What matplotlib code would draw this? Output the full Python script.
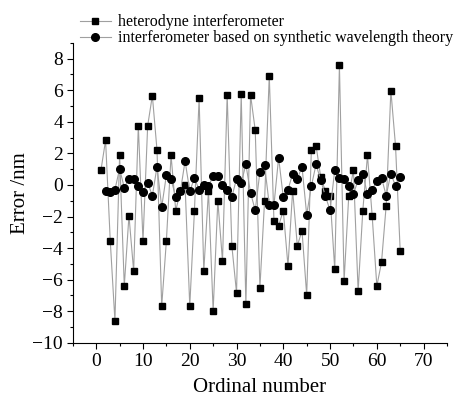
import numpy as np
import matplotlib
matplotlib.use("Agg")
import matplotlib.pyplot as plt
from matplotlib.ticker import MultipleLocator

# heterodyne interferometer (squares), ordinal 1..65
het_x = list(range(1, 66))
het_err = [0.92, 2.83, -3.54, -8.6, 1.88, -6.4, -1.94, -5.45, 3.75, -3.54,
           3.75, 5.66, 2.2, -7.68, -3.54, 1.88, -1.62, -0.4, 0.0, -7.68,
           -1.62, 5.49, -5.45, -0.35, -7.97, -0.99, -4.81, 5.7, -3.85, -6.83,
           5.74, -7.57, 5.7, 3.47, -6.5, -0.99, 6.93, -2.26, -2.58, -1.62,
           -5.13, -0.35, -3.85, -2.9, -6.97, 2.2, 2.5, 0.5, -0.39, -0.71,
           -5.34, 7.57, -6.06, -0.67, 0.94, -6.72, -1.62, 1.88, -1.94, -6.4,
           -4.9, -1.3, 5.98, 2.47, -4.2]

# synthetic wavelength interferometer (circles), ordinal 2..65
syn_x = list(range(2, 66))
syn_err = [-0.39, -0.46, -0.29, 1.03, -0.18, 0.41, 0.41, -0.05, -0.46,
           0.14, -0.67, 1.15, -1.4, 0.62, 0.35, -0.73, -0.39, 1.52, -0.39,
           0.43, -0.29, 0.03, -0.07, 0.56, 0.56, 0.03, -0.29, -0.77, 0.41,
           0.12, 1.3, -0.5, -1.6, 0.83, 1.24, -1.24, -1.28, 1.73, -0.78,
           -0.31, 0.72, 0.4, 1.15, -1.88, -0.07, 1.3, 0.31, -0.71, -1.6,
           0.93, 0.46, 0.35, -0.07, -0.57, 0.31, 0.72, -0.6, -0.29, 0.25,
           0.46, -0.67, 0.72, -0.07, 0.52]

plt.rcParams['font.family'] = ['Liberation Serif', 'DejaVu Serif']

fig = plt.figure(figsize=(4.73, 4.01), dpi=100)
ax = fig.add_axes([0.154, 0.145, 0.791, 0.748])

line_col = '#a0a0a0'
ax.plot(het_x, het_err, color=line_col, lw=0.8, marker='s', ms=5,
        mfc='black', mec='black', label='heterodyne interferometer')
ax.plot(syn_x, syn_err, color=line_col, lw=0.8, marker='o', ms=5.5,
        mfc='black', mec='black',
        label='interferometer based on synthetic wavelength theory')

ax.set_xlim(-5, 75)
ax.set_ylim(-10, 9)
ax.xaxis.set_major_locator(MultipleLocator(10))
ax.xaxis.set_minor_locator(MultipleLocator(5))
ax.yaxis.set_major_locator(MultipleLocator(2))
ax.yaxis.set_minor_locator(MultipleLocator(1))

for s in ['top', 'right']:
    ax.spines[s].set_visible(False)
ax.tick_params(which='major', direction='out', length=4, width=0.8,
               labelsize=14, pad=3)
ax.tick_params(which='minor', direction='out', length=2, width=0.8)

ax.set_xlabel('Ordinal number', fontsize=15, labelpad=6)
ax.set_ylabel('Error /nm', fontsize=15, labelpad=2)

ax.legend(loc='upper left', bbox_to_anchor=(0.02, 1.095), frameon=False,
          fontsize=11.5, handlelength=1.9, handletextpad=0.45,
          labelspacing=0.0, borderaxespad=0, borderpad=0)

fig.savefig('out.png', dpi=100)
